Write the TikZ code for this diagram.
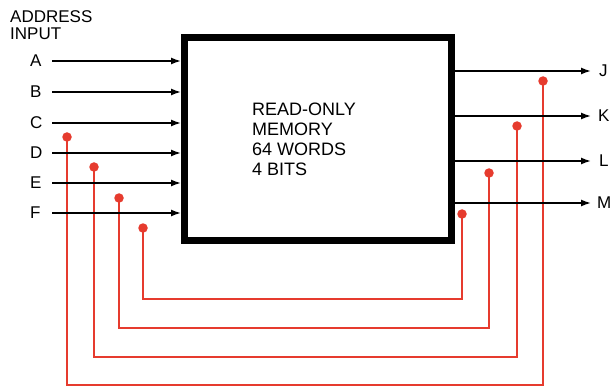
\documentclass[tikz,border=0pt]{standalone}
\usepackage{fontspec}
\setmainfont{Liberation Sans}
\usetikzlibrary{arrows.meta}
\definecolor{wirered}{HTML}{E63B2E}
\begin{document}
\begin{tikzpicture}[x=1pt,y=-1pt,
  lbl/.style={font=\fontsize{17}{17}\selectfont, inner sep=0pt, anchor=west},
  inlbl/.style={lbl, text width=12pt},
  sig/.style={line width=1.5pt, -{Latex[length=10pt,width=7pt]}},
  fb/.style={draw=wirered, line width=1.4pt, line join=miter},
  rdot/.style={circle, fill=wirered, inner sep=0pt, minimum size=9.5pt}]
\useasboundingbox (0,0) rectangle (612,387);
% feedback wires
\node[rdot] (p1) at (67,137) {};
\node[rdot] (p2) at (94,167) {};
\node[rdot] (p3) at (119,198) {};
\node[rdot] (p4) at (143,228) {};
\node[rdot] (q1) at (543,81) {};
\node[rdot] (q2) at (517,126) {};
\node[rdot] (q3) at (489,173) {};
\node[rdot] (q4) at (462,214) {};
\coordinate (b1) at (300,385);
\coordinate (b2) at (300,357);
\coordinate (b3) at (300,328);
\coordinate (b4) at (300,299);
\draw[fb] (p1.center) |- (b1) -| (q1.center);
\draw[fb] (p2.center) |- (b2) -| (q2.center);
\draw[fb] (p3.center) |- (b3) -| (q3.center);
\draw[fb] (p4.center) |- (b4) -| (q4.center);
% memory block
\node[draw, line width=7pt, minimum width=267pt, minimum height=203pt, inner sep=0pt] (rom) at (318,139) {};
\node[font=\fontsize{18}{20.3}\selectfont, align=left, anchor=base west, inner sep=0pt] (txt) at (252,176)
  {READ-ONLY\\MEMORY\\64 WORDS\\4 BITS};
% title
\node[lbl, anchor=base west] (t1) at (10,23) {ADDRESS};
\node[lbl, anchor=base west] (t2) at (10,40) {INPUT};
% inputs
\node[inlbl] (A) at (30,61) {A};
\node[inlbl] (B) at (30,92) {B};
\node[inlbl] (C) at (30,123) {C};
\node[inlbl] (D) at (30,153) {D};
\node[inlbl] (E) at (30,183) {E};
\node[inlbl] (F) at (30,213) {F};
\foreach \n in {A,B,C,D,E,F}
  \draw[sig] ([xshift=10pt]\n.east) -- (\n.east -| rom.west);
% outputs
\node[lbl] (J) at (599,71) {J};
\node[lbl] (K) at (598,116) {K};
\node[lbl] (L) at (599,161) {L};
\node[lbl] (M) at (597,203) {M};
\foreach \n in {J,K,L,M}
  \draw[sig] (\n.west -| rom.east) -- (591,0 |- \n.west);
\end{tikzpicture}
\end{document}
